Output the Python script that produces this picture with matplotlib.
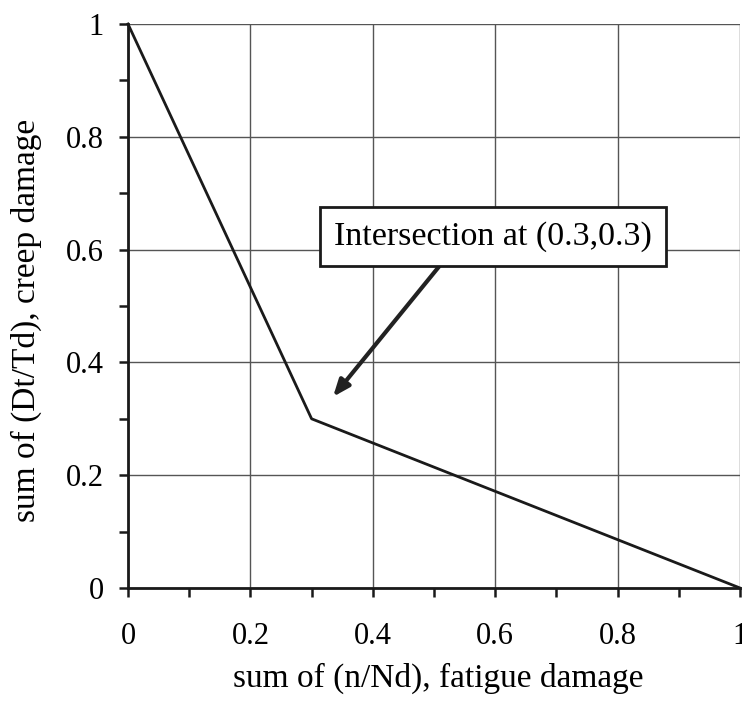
import numpy as np
import matplotlib.pyplot as plt
from matplotlib.ticker import MultipleLocator

plt.rcParams['font.family'] = ['Liberation Serif', 'DejaVu Serif']

# ============================================================
# Data
# ============================================================
fatigue = [0.0, 0.3, 1.0]
creep = [1.0, 0.3, 0.0]
tick_vals = [0, 0.2, 0.4, 0.6, 0.8, 1]
tick_labels = ["0", "0.2", "0.4", "0.6", "0.8", "1"]
note_text = "Intersection at (0.3,0.3)"

fig = plt.figure(figsize=(7.42, 7.13), dpi=100)
ax = fig.add_axes([128 / 742, 1 - 588 / 713, 612 / 742, 564 / 713])

ax.plot(fatigue, creep, color="#1a1a1a", lw=2.0, clip_on=False, zorder=3)

ax.set_xlim(0, 1)
ax.set_ylim(0, 1)
ax.set_xticks(tick_vals)
ax.set_xticklabels(tick_labels)
ax.set_yticks(tick_vals)
ax.set_yticklabels(tick_labels)
ax.xaxis.set_minor_locator(MultipleLocator(0.1))
ax.yaxis.set_minor_locator(MultipleLocator(0.1))
ax.tick_params(which="both", direction="out", length=6.5, width=1.8,
               labelsize=22, color="#1a1a1a")
ax.tick_params(axis="x", pad=18)
ax.tick_params(axis="y", pad=11)

ax.grid(True, which="major", color="#555555", lw=1.0)
for s in ["top", "right"]:
    ax.spines[s].set_visible(False)
for s in ["left", "bottom"]:
    ax.spines[s].set_linewidth(2.0)
    ax.spines[s].set_color("#1a1a1a")

ax.set_xlabel("sum of (n/Nd), fatigue damage", fontsize=24)
ax.set_ylabel("sum of (Dt/Td), creep damage", fontsize=24)
ax.xaxis.set_label_coords(0.507, -0.132)
ax.yaxis.set_label_coords(-0.140, 0.475)

# label box and its arrow
ax.text(0.596, 0.623, note_text, fontsize=24.5, ha="center", va="center",
        bbox=dict(boxstyle="square,pad=0.42", fc="white", ec="#1a1a1a", lw=2.0),
        zorder=6)
ax.annotate("", xy=(0.335, 0.339), xytext=(0.509, 0.571),
            arrowprops=dict(arrowstyle="-|>,head_length=1.0,head_width=0.4",
                            color="#222222", lw=3.0, shrinkA=0, shrinkB=0),
            zorder=5)

fig.savefig("out.png", dpi=100)
